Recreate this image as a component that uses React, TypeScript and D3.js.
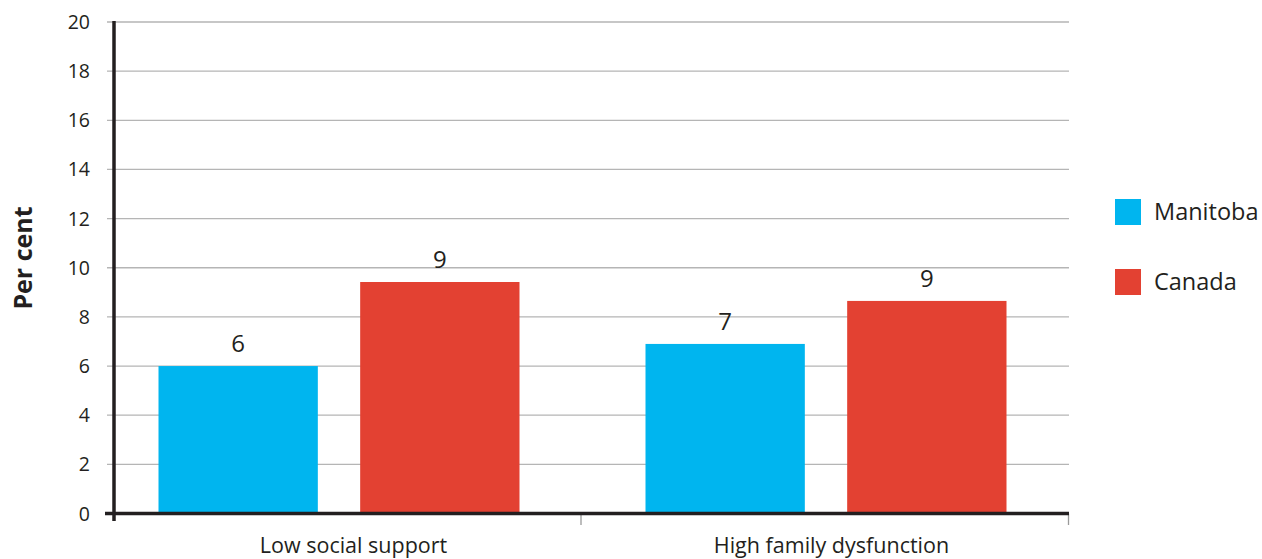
import React from "react";
import * as d3 from "d3";

const categories = ["Low social support", "High family dysfunction"];
const seriesNames = ["Manitoba", "Canada"];
const manitobaValues = [6.0, 6.9];
const canadaValues = [9.42, 8.65];
const seriesColors = ["#00b5ef", "#e34132"];
const yTicks = [0, 2, 4, 6, 8, 10, 12, 14, 16, 18, 20];
const yTitle = "Per cent";

const W = 1262;
const H = 559;
const FONT = "'Open Sans', 'Lato', sans-serif";
const TEXT = "#231f20";

export default function App() {
  const y = d3.scaleLinear().domain([0, 20]).range([513.5, 22]);
  const x0 = d3.scaleBand<string>().domain(categories).range([95, 1069]).padding(0);
  const x1 = d3
    .scaleBand<string>()
    .domain(seriesNames)
    .range([-180, 181])
    .paddingInner(0.21)
    .paddingOuter(0);
  const values = [manitobaValues, canadaValues];

  return (
    <svg
      width={W}
      height={H}
      style={{ position: "absolute", left: 0, top: 0, background: "#fff" }}
      fontFamily={FONT}
    >
      {/* gridlines */}
      {yTicks.map((t) => (
        <line
          key={"g" + t}
          x1={107}
          x2={1069}
          y1={y(t)}
          y2={y(t)}
          stroke="#b5b5b5"
          strokeWidth={1.3}
        />
      ))}
      {/* y tick labels */}
      {yTicks.map((t) => (
        <text
          key={"t" + t}
          x={90}
          y={y(t)}
          dy="0.36em"
          textAnchor="end"
          fontSize={19.5}
          fill={TEXT}
        >
          {t}
        </text>
      ))}
      {/* bars */}
      {categories.map((c, ci) => (
        <g key={c} transform={`translate(${(x0(c) ?? 0) + x0.bandwidth() / 2},0)`}>
          {seriesNames.map((s, si) => {
            const v = values[si][ci];
            const bx = x1(s) ?? 0;
            return (
              <g key={s}>
                <rect
                  x={bx}
                  y={y(v)}
                  width={x1.bandwidth()}
                  height={y(0) - y(v)}
                  fill={seriesColors[si]}
                />
                <text
                  x={bx + x1.bandwidth() / 2}
                  y={y(v) - 14}
                  textAnchor="middle"
                  fontSize={24}
                  fill={TEXT}
                >
                  {Math.round(v)}
                </text>
              </g>
            );
          })}
        </g>
      ))}
      {/* x axis separator ticks */}
      <line x1={581} x2={581} y1={513.5} y2={525} stroke="#9a9a9a" strokeWidth={1.3} />
      <line x1={1068.5} x2={1068.5} y1={513.5} y2={525} stroke="#9a9a9a" strokeWidth={1.3} />
      {/* axes */}
      <line x1={105} x2={1069} y1={513.5} y2={513.5} stroke={TEXT} strokeWidth={3.5} />
      <line x1={114} x2={114} y1={21} y2={521} stroke={TEXT} strokeWidth={3.5} />
      {/* category labels */}
      {categories.map((c, ci) => (
        <text
          key={"c" + c}
          x={(x0(c) ?? 0) + x0.bandwidth() / 2 + (ci === 0 ? 15 : 6)}
          y={553}
          textAnchor="middle"
          fontSize={21.5}
          fill={TEXT}
        >
          {c}
        </text>
      ))}
      {/* y title */}
      <text
        transform={`translate(32,258) rotate(-90)`}
        textAnchor="middle"
        fontSize={25}
        fontWeight="bold"
        fill={TEXT}
      >
        {yTitle}
      </text>
      {/* legend */}
      {seriesNames.map((s, i) => (
        <g key={"l" + s} transform={`translate(1115,${199 + i * 70})`}>
          <rect x={0} y={0} width={26} height={26} fill={seriesColors[i]} />
          <text x={39} y={13} dy="0.36em" fontSize={23.5} fill={TEXT}>
            {s}
          </text>
        </g>
      ))}
    </svg>
  );
}
